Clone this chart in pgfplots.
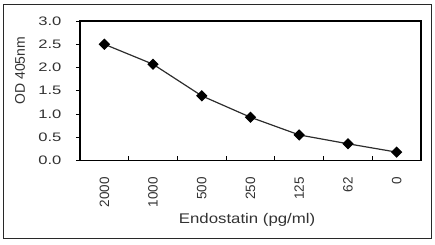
\documentclass[border=0pt]{standalone}
\usepackage{fontspec}
\setmainfont{Liberation Sans}
\newfontfamily\wideA{Liberation Sans}[FakeStretch=1.2]
\newfontfamily\wideB{Liberation Sans}[FakeStretch=1.35]
\usepackage{pgfplots}
\pgfplotsset{compat=1.18}
\definecolor{txt}{RGB}{50,50,50}
\definecolor{frm}{RGB}{40,40,40}
\begin{document}
\begin{tikzpicture}
\begin{axis}[
  at={(0,0)}, anchor=south west,
  scale only axis, width=341pt, height=139.5pt,
  xmin=-0.5, xmax=6.5, ymin=0, ymax=3,
  axis line style={line width=1.8pt, black},
  tick pos=left,
  xtick={0,1,2,3,4,5,6},
  xticklabels={2000,1000,500,250,125,62,0},
  major x tick style={draw=none},
  minor xtick={0.5,1.5,2.5,3.5,4.5,5.5},
  minor x tick style={black, line width=0.8pt},
  minor tick length=4.5pt,
  xtick align=inside,
  ytick={0,0.5,1,1.5,2,2.5,3},
  yticklabels={0.0,0.5,1.0,1.5,2.0,2.5,3.0},
  ytick align=outside,
  major tick length=4pt,
  y tick style={black, line width=0.8pt},
  yticklabel style={font=\wideB\fontsize{12.3}{14}\selectfont, text=txt, xshift=-11pt},
  xticklabel style={font=\fontsize{13.5}{15}\selectfont, text=txt, rotate=90, anchor=east},
  xticklabel shift=13pt,
  xlabel={Endostatin (pg/ml)},
  ylabel={OD 405nm},
  xlabel style={font=\wideA\fontsize{14}{16}\selectfont, text=txt, at={(axis description cs:0.49,-0.425)}, anchor=center},
  ylabel style={font=\fontsize{14}{16}\selectfont, text=txt, at={(axis description cs:-0.176,0.643)}, anchor=center},
  clip=false,
]
\addplot[color={rgb,255:red,45;green,45;blue,45}, line width=1.2pt, mark=square*, mark size=3.4pt,
  mark options={rotate=45, fill=black, draw=black}]
  coordinates {(0,2.50) (1,2.07) (2,1.39) (3,0.93) (4,0.55) (5,0.36) (6,0.18)};
\end{axis}
\draw[frm, line width=1.8pt] ([shift={(-76.5pt,-78pt)}]current axis.south west) rectangle ([shift={(10.5pt,16.5pt)}]current axis.north east);
\pgfresetboundingbox
\useasboundingbox ([shift={(-80pt,-83.5pt)}]current axis.south west) rectangle ++(435pt,244pt);
\end{tikzpicture}
\end{document}
